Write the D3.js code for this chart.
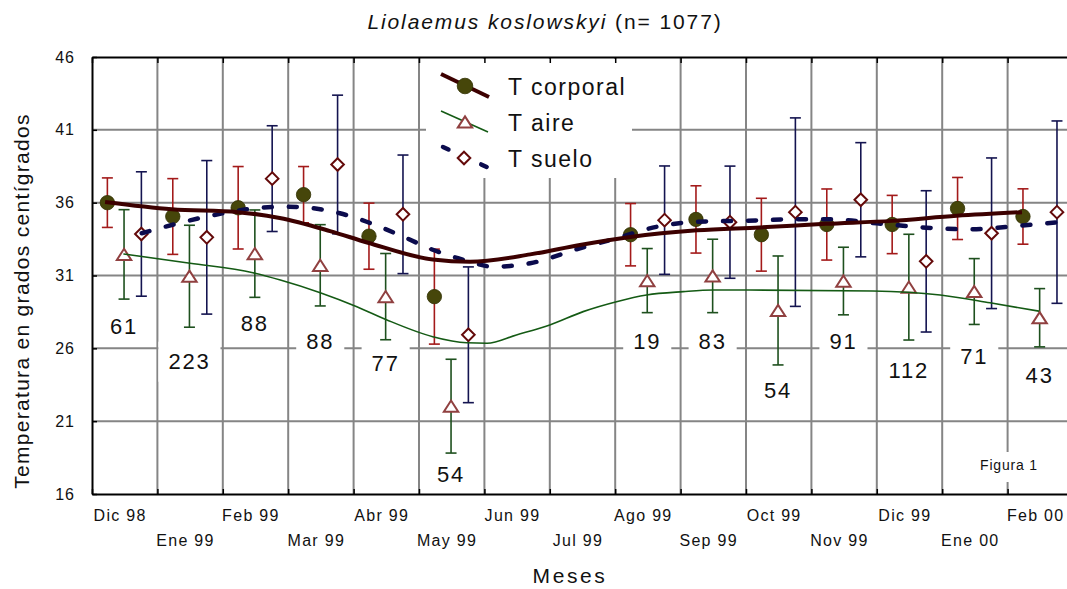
<!DOCTYPE html>
<html><head><meta charset="utf-8">
<script src="https://cdn.jsdelivr.net/npm/d3@7"></script>
<style>
body{margin:0;background:#fff}
svg{display:block}
text{font-family:"Liberation Sans",Arial,sans-serif;fill:#111}
</style>
</head><body>
<svg id="c" width="1067" height="589"></svg>
<script>
// ---------- data ----------
const months = ["Dic 98","Ene 99","Feb 99","Mar 99","Abr 99","May 99","Jun 99","Jul 99","Ago 99","Sep 99","Oct 99","Nov 99","Dic 99","Ene 00","Feb 00"];
const yTicks = [16,21,26,31,36,41,46];

const tCorporal   = [36.0, 35.05, 35.65, 36.55, 33.7, 29.55, null, null, 33.8, 34.85, 33.8, 34.5, 34.5, 35.6, 35.05];
const tCorporalSD = [1.7, 2.6, 2.83, 1.93, 2.27, 3.26, null, null, 2.14, 2.31, 2.5, 2.44, 2.0, 2.13, 1.9];
const tAire       = [32.45, 30.95, 32.5, 31.7, 29.55, 22.03, null, null, 30.65, 30.97, 28.6, 30.62, 30.2, 29.9, 28.1];
const tAireSD     = [3.07, 3.5, 3.0, 2.79, 2.96, 3.22, null, null, 2.2, 2.52, 3.74, 2.32, 3.63, 2.26, 2.0];
const tSuelo      = [33.85, 33.62, 37.65, 38.62, 35.2, 26.93, null, null, 34.8, 34.66, 35.35, 36.2, 31.97, 33.9, 35.35];
const tSueloSD    = [4.27, 5.27, 3.63, 4.76, 4.07, 4.66, null, null, 3.72, 3.85, 6.47, 3.92, 4.85, 5.17, 6.26];

const nLabels   = ["61","223","88","88","77","54","","","19","83","54","91","112","71","43"];
const nLabelAt  = [27.49, 25.08, 27.72, 26.46, 24.97, 17.31, null, null, 26.46, 26.46, 23.09, 26.46, 24.51, 25.43, 24.12];

// smoothed trend curves: [month position, temperature]
const corporalTrend = [[0.20,36.05],[1.22,35.55],[2.23,35.35],[2.87,34.95],[3.64,34.05],[4.22,33.25],[5.21,32.1],[5.78,31.95],[6.70,32.45],[7.46,33.1],[8.23,33.65],[9.25,34.1],[10.21,34.3],[11.22,34.55],[12.23,34.75],[13.22,35.1],[14.22,35.35]];
const aireTrend = [[0.48,32.48],[1.50,31.84],[2.46,31.19],[2.88,30.69],[3.49,29.82],[4.05,28.86],[4.51,27.95],[5.21,26.8],[5.73,26.38],[6.04,26.35],[6.49,26.92],[7.00,27.6],[7.51,28.52],[8.02,29.2],[8.48,29.66],[9.04,29.89],[9.50,30.0],[10.06,30.0],[11.94,29.94],[12.97,29.66],[13.73,29.13],[14.48,28.55]];
const sueloTrend = [[0.76,33.9],[1.12,34.35],[2.00,35.27],[2.37,35.55],[2.98,35.72],[3.49,35.55],[3.79,35.27],[4.20,34.69],[4.76,33.66],[5.22,32.75],[5.73,32.02],[6.14,31.6],[6.70,31.84],[7.46,32.87],[7.97,33.49],[8.64,34.35],[9.25,34.69],[10.01,34.76],[10.78,34.86],[11.28,34.86],[12.00,34.58],[12.76,34.28],[13.43,34.17],[14.19,34.42],[14.74,34.65]];

const titleItalic = "Liolaemus koslowskyi";
const titleRest = " (n= 1077)";
const yTitle = "Temperatura en grados centígrados";
const xTitle = "Meses";
const legendNames = ["T corporal","T aire","T suelo"];
const figLabel = "Figura 1";

// ---------- layout ----------
const svg = d3.select("#c");
svg.append("rect").attr("width",1067).attr("height",589).attr("fill","#fff");
const x = d3.scaleLinear().domain([0,15]).range([92,1073]);
const y = d3.scaleLinear().domain([16,46]).range([494,57]);
const OFF = {corp:0.235, aire:0.49, suelo:0.755};
const C = {
  grid:"#858585", circ:"#46460a", circStroke:"#2e2e00", corpErr:"#a31a1a", corpLine:"#3c0000",
  tri:"#904040", aireErr:"#1e501e", aireLine:"#145a14",
  dia:"#640a0a", sueloErr:"#141450", sueloLine:"#0b0b4d"
};

// grid
const g = svg.append("g");
g.selectAll("line.h").data(yTicks.filter(v=>v>16&&v<46)).join("line")
  .attr("x1",x(0)).attr("x2",x(15)).attr("y1",d=>y(d)).attr("y2",d=>y(d))
  .attr("stroke",C.grid).attr("stroke-width",2);
g.selectAll("line.v").data(d3.range(1,15)).join("line")
  .attr("x1",d=>x(d)).attr("x2",d=>x(d)).attr("y1",y(46)).attr("y2",y(16))
  .attr("stroke",C.grid).attr("stroke-width",2);

// white boxes: legend, n-labels, figure label
svg.append("rect").attr("x",426).attr("y",59).attr("width",206).attr("height",119).attr("fill","#fff");

const nG = svg.append("g");
months.forEach((m,i)=>{
  if(!nLabels[i]) return;
  const t = nG.append("text").attr("x",x(i+OFF.aire)).attr("y",y(nLabelAt[i]))
    .attr("text-anchor","middle").attr("dominant-baseline","central")
    .style("font-size","22px").style("letter-spacing","1.8px").text(nLabels[i]);
  const bb = t.node().getBBox();
  nG.insert("rect","text").attr("x",bb.x-10).attr("y",y(nLabelAt[i])-20)
    .attr("width",bb.width+20).attr("height",40).attr("fill","#fff");
});
nG.selectAll("text").raise();

const fg = svg.append("g");
const ft = fg.append("text").attr("x",1009).attr("y",470).attr("text-anchor","middle")
  .style("font-size","14px").style("letter-spacing","0.8px").text(figLabel);
const fbb = ft.node().getBBox();
fg.insert("rect","text").attr("x",fbb.x-10).attr("y",452).attr("width",fbb.width+20).attr("height",30).attr("fill","#fff");

// axes
const axL = d3.axisLeft(y).tickValues(yTicks).tickSize(-5).tickSizeOuter(0).tickPadding(17);
const gL = svg.append("g").attr("transform",`translate(${x(0)},0)`).call(axL);
gL.selectAll("text").style("font-size","16px").style("letter-spacing","1px").attr("fill","#111");
const axB = d3.axisBottom(x).tickValues(d3.range(0,16)).tickSize(-5).tickSizeOuter(0).tickFormat("");
const gB = svg.append("g").attr("transform",`translate(0,${y(16)})`).call(axB);
const axT = d3.axisTop(x).tickValues(d3.range(0,16)).tickSize(-6).tickSizeOuter(0).tickFormat("");
const gT = svg.append("g").attr("transform",`translate(0,${y(46)})`).call(axT);
[gL,gB,gT].forEach(a=>{a.select(".domain").attr("stroke","#000").attr("stroke-width",2);
  a.selectAll(".tick line").attr("stroke","#000").attr("stroke-width",1.5);});

// x tick labels (two alternating rows)
svg.append("g").selectAll("text").data(months).join("text")
  .attr("x",(d,i)=>x(i+0.43)).attr("y",(d,i)=>i%2===0?521:546)
  .attr("text-anchor","middle").style("font-size","16px").style("letter-spacing","1.3px").text(d=>d);

// titles
const tt = svg.append("text").attr("x",545).attr("y",29).attr("text-anchor","middle")
  .style("font-size","21px").style("letter-spacing","1.9px");
tt.append("tspan").style("font-style","italic").text(titleItalic);
tt.append("tspan").text(titleRest);
svg.append("text").attr("x",570).attr("y",583).attr("text-anchor","middle")
  .style("font-size","21px").style("letter-spacing","2.6px").text(xTitle);
svg.append("text").attr("transform","translate(29,301) rotate(-90)").attr("text-anchor","middle")
  .style("font-size","21px").style("letter-spacing","1.3px").text(yTitle);

// markers
const triPath = "M0,-5.6L7.2,5.6L-7.2,5.6Z";
const diaPath = "M0,-6.3L6.3,0L0,6.3L-6.3,0Z";
function errBars(vals, sds, off, color){
  const gg = svg.append("g").attr("stroke",color).attr("stroke-width",1.6);
  vals.forEach((v,i)=>{
    if(v==null) return;
    const cx = x(i+off), y1 = y(v+sds[i]), y2 = y(v-sds[i]);
    gg.append("line").attr("x1",cx).attr("x2",cx).attr("y1",y1).attr("y2",y2);
    gg.append("line").attr("x1",cx-5.5).attr("x2",cx+5.5).attr("y1",y1).attr("y2",y1);
    gg.append("line").attr("x1",cx-5.5).attr("x2",cx+5.5).attr("y1",y2).attr("y2",y2);
  });
}
errBars(tCorporal,tCorporalSD,OFF.corp,C.corpErr);
errBars(tAire,tAireSD,OFF.aire,C.aireErr);
errBars(tSuelo,tSueloSD,OFF.suelo,C.sueloErr);

const idx = d3.range(months.length);
svg.append("g").selectAll("circle").data(idx.filter(i=>tCorporal[i]!=null)).join("circle")
  .attr("cx",i=>x(i+OFF.corp)).attr("cy",i=>y(tCorporal[i])).attr("r",7.2)
  .attr("fill",C.circ).attr("stroke",C.circStroke).attr("stroke-width",0.8);
svg.append("g").selectAll("path").data(idx.filter(i=>tAire[i]!=null)).join("path")
  .attr("d",triPath).attr("transform",i=>`translate(${x(i+OFF.aire)},${y(tAire[i])})`)
  .attr("fill","#fff").attr("stroke",C.tri).attr("stroke-width",2);
svg.append("g").selectAll("path").data(idx.filter(i=>tSuelo[i]!=null)).join("path")
  .attr("d",diaPath).attr("transform",i=>`translate(${x(i+OFF.suelo)},${y(tSuelo[i])})`)
  .attr("fill","#fff").attr("stroke",C.dia).attr("stroke-width",2);

// trend curves
const line = d3.line().x(d=>x(d[0])).y(d=>y(d[1])).curve(d3.curveMonotoneX);
svg.append("path").attr("d",line(aireTrend)).attr("fill","none").attr("stroke",C.aireLine).attr("stroke-width",1.6);
svg.append("path").attr("d",line(sueloTrend)).attr("fill","none").attr("stroke",C.sueloLine)
  .attr("stroke-width",4.5).attr("stroke-dasharray","8,17").attr("stroke-linecap","round");
svg.append("path").attr("d",line(corporalTrend)).attr("fill","none").attr("stroke",C.corpLine).attr("stroke-width",4);

// legend
const lg = svg.append("g");
const ly = [86,122,158];
lg.append("line").attr("x1",441).attr("y1",ly[0]-12).attr("x2",489).attr("y2",ly[0]+11)
  .attr("stroke",C.corpLine).attr("stroke-width",4);
lg.append("circle").attr("cx",465).attr("cy",ly[0]).attr("r",7.8).attr("fill",C.circ).attr("stroke",C.circStroke).attr("stroke-width",0.8);
lg.append("line").attr("x1",441).attr("y1",ly[1]-11).attr("x2",488).attr("y2",ly[1]+10)
  .attr("stroke",C.aireLine).attr("stroke-width",1.6);
lg.append("path").attr("d",triPath).attr("transform",`translate(465,${ly[1]})`).attr("fill","#fff").attr("stroke",C.tri).attr("stroke-width",2);
lg.append("line").attr("x1",443).attr("y1",ly[2]-11).attr("x2",489).attr("y2",ly[2]+10)
  .attr("stroke",C.sueloLine).attr("stroke-width",4.5).attr("stroke-dasharray","6,15").attr("stroke-linecap","round");
lg.append("path").attr("d",diaPath).attr("transform",`translate(464,${ly[2]})`).attr("fill","#fff").attr("stroke",C.dia).attr("stroke-width",2);
lg.selectAll("text").data(legendNames).join("text")
  .attr("x",508).attr("y",(d,i)=>ly[i]+9).style("font-size","23px").style("letter-spacing","1.5px").text(d=>d);
</script>
</body></html>
